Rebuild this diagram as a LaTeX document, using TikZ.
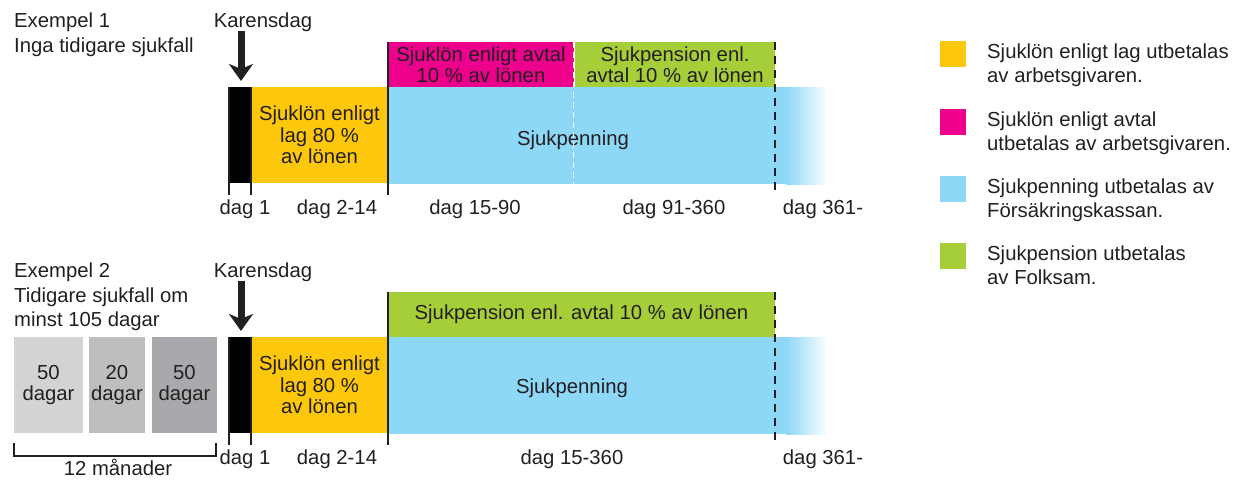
\documentclass[tikz,border=0pt]{standalone}
\usepackage{fontspec}
\setmainfont{Liberation Sans}
\usetikzlibrary{arrows.meta}
\definecolor{txt}{HTML}{231F20}
\definecolor{ylw}{HTML}{FDC70C}
\definecolor{mag}{HTML}{EC008C}
\definecolor{sky}{HTML}{8DD7F7}
\definecolor{grn}{HTML}{A6CE39}
\definecolor{gA}{HTML}{D1D3D4}
\definecolor{gB}{HTML}{BCBEC0}
\definecolor{gC}{HTML}{A7A9AC}
\begin{document}
\begin{tikzpicture}[x=1pt,y=-1pt,
  every node/.style={text=txt, font=\fontsize{20.3}{21}\selectfont},
  seg/.style 2 args={rectangle, inner sep=0pt, outer sep=0pt, anchor=north west,
    align=center, minimum width=#1, minimum height=#2},
  lbl/.style={anchor=base, inner sep=0pt},
  lblw/.style={anchor=base west, inner sep=0pt},
  tickline/.style={draw=txt, line width=2.7pt},
  blackdash/.style={draw=txt, line width=2.8pt, dash pattern=on 8pt off 6pt},
  whitedash/.style={draw=white, line width=1.8pt, dash pattern=on 6pt off 4pt},
  karrow/.style={draw=txt, line width=7pt, -{Stealth[length=17pt,width=24pt,inset=5pt]}},
  legbox/.style={rectangle, inner sep=0pt, minimum size=26pt, anchor=north west},
  legtext/.style={anchor=base west, inner sep=0pt, align=left, font=\fontsize{20.3}{24}\selectfont},
]
\useasboundingbox (0,0) rectangle (1235,482);

% ---------- Example 1 ----------
\node[lblw] (e1a) at (14,27) {Exempel 1};
\node[lblw] (e1b) at (14,52) {Inga tidigare sjukfall};
\node[lbl] (kd1) at (263,27) {Karensdag};

\node[seg={186pt}{45pt}, fill=mag] (m1) at (388,42) {Sjuklön enligt avtal\\10 \% av lönen};
\node[seg={200pt}{45pt}, fill=grn] (g1) at (575,42) {Sjukpension enl.\\avtal 10 \% av lönen};
\node[seg={387pt}{97pt}, fill=sky] (b1) at (388,87) {};
\fill[sky] (775,87) rectangle (786,184);
\shade[left color=sky, right color=white] (786,87) rectangle (828,184);
\node[lbl] (s1) at (573,145) {Sjukpenning};
\node[seg={22pt}{96pt}, fill=black] (k1) at (229,87) {};
\node[seg={137pt}{96pt}, fill=ylw] (y1) at (251,87) {Sjuklön enligt\\[0.5pt]lag 80 \%\\[0.5pt]av lönen};

\coordinate (w1t) at (573.5,42);
\coordinate (w1b) at (573.5,184);
\draw[whitedash] (w1t) -- (w1b);
\coordinate (d1t) at (775,42);
\coordinate (d1b) at (775,195);
\draw[blackdash] (d1t) -- (d1b);
\draw[tickline] (k1.north west) -- ++(0,108);
\draw[tickline] (k1.north east) -- ++(0,108);
\draw[tickline] (m1.north west) -- ++(0,153);

\coordinate (a1) at (241,31);
\draw[karrow] (a1) -- (k1.north -| a1) [shorten >=6pt];

\node[lbl] (t1a) at (245,214) {dag 1};
\node[lbl] (t1b) at (337,214) {dag 2-14};
\node[lbl] (t1c) at (475,214) {dag 15-90};
\node[lbl] (t1d) at (674,214) {dag 91-360};
\node[lbl] (t1e) at (823,214) {dag 361-};

% ---------- Example 2 ----------
\node[lblw] (e2a) at (14,277) {Exempel 2};
\node[lblw] (e2b) at (14,302) {Tidigare sjukfall om};
\node[lblw] (e2c) at (14,326) {minst 105 dagar};
\node[lbl] (kd2) at (263,277) {Karensdag};

\node[seg={69pt}{96pt}, fill=gA] (p1) at (14,337) {50\\dagar};
\node[seg={56pt}{96pt}, fill=gB] (p2) at (89,337) {20\\dagar};
\node[seg={65pt}{96pt}, fill=gC] (p3) at (152,337) {50\\dagar};

\node[seg={387pt}{45pt}, fill=grn] (g2) at (388,292) {Sjukpension enl. avtal 10 \% av lönen};
\node[seg={387pt}{97pt}, fill=sky] (b2) at (388,337) {};
\fill[sky] (775,337) rectangle (786,434);
\shade[left color=sky, right color=white] (786,337) rectangle (828,434);
\node[lbl] (s2) at (572,393) {Sjukpenning};
\node[seg={22pt}{96pt}, fill=black] (k2) at (229,337) {};
\node[seg={137pt}{96pt}, fill=ylw] (y2) at (251,337) {Sjuklön enligt\\[0.5pt]lag 80 \%\\[0.5pt]av lönen};

\coordinate (d2t) at (775,292);
\coordinate (d2b) at (775,445);
\draw[blackdash] (d2t) -- (d2b);
\draw[tickline] (k2.north west) -- ++(0,108);
\draw[tickline] (k2.north east) -- ++(0,108);
\draw[tickline] (g2.north west) -- ++(0,153);

\coordinate (a2) at (241,281);
\draw[karrow] (a2) -- (k2.north -| a2) [shorten >=6pt];

\coordinate (br1) at (14,443);
\coordinate (br2) at (216,443);
\draw[tickline, line width=2.4pt] (br1) -- ++(0,13) -| (br2);
\node[lbl] (mon) at (118,475) {12 månader};

\node[lbl] (t2a) at (245,464) {dag 1};
\node[lbl] (t2b) at (337,464) {dag 2-14};
\node[lbl] (t2c) at (572,464) {dag 15-360};
\node[lbl] (t2e) at (823,464) {dag 361-};

% ---------- Legend ----------
\node[legbox, fill=ylw] (l1) at (940,41) {};
\node[legbox, fill=mag] (l2) at (940,109) {};
\node[legbox, fill=sky] (l3) at (940,176) {};
\node[legbox, fill=grn] (l4) at (940,243) {};
\node[legtext] (lt1) at (987,82) {Sjuklön enligt lag utbetalas\\av arbetsgivaren.};
\node[legtext] (lt2) at (987,150) {Sjuklön enligt avtal\\utbetalas av arbetsgivaren.};
\node[legtext] (lt3) at (987,217) {Sjukpenning utbetalas av\\Försäkringskassan.};
\node[legtext] (lt4) at (987,284) {Sjukpension utbetalas\\av Folksam.};
\end{tikzpicture}
\end{document}
